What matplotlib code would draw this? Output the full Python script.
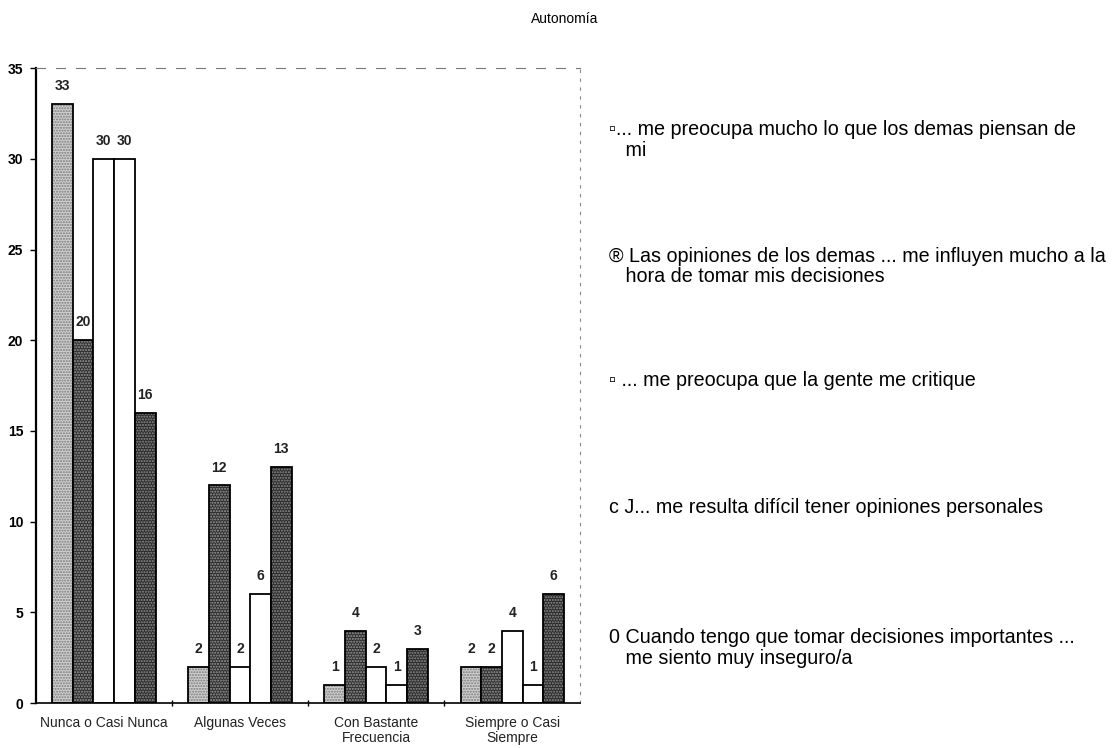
import numpy as np
import matplotlib
matplotlib.use("Agg")
import matplotlib.pyplot as plt

plt.rcParams['font.family'] = ['Liberation Sans', 'DejaVu Sans']
fuente_graf = ['Liberation Sans Narrow', 'Liberation Sans', 'DejaVu Sans']

categorias = ["Nunca o Casi Nunca", "Algunas Veces", "Con Bastante\nFrecuencia", "Siempre o Casi\nSiempre"]

preocupa_piensan = [33, 2, 1, 2]
opiniones_influyen = [20, 12, 4, 2]
preocupa_critique = [30, 2, 2, 4]
dificil_opiniones = [30, 6, 1, 1]
inseguro = [16, 13, 3, 6]

series = [preocupa_piensan, opiniones_influyen, preocupa_critique, dificil_opiniones, inseguro]

leyenda = [
    "\u25ab... me preocupa mucho lo que los demas piensan de\n   mi",
    "\u00ae Las opiniones de los demas ... me influyen mucho a la\n   hora de tomar mis decisiones",
    "\u25ab ... me preocupa que la gente me critique",
    "c J... me resulta dif\u00edcil tener opiniones personales",
    "0 Cuando tengo que tomar decisiones importantes ...\n   me siento muy inseguro/a",
]

# relleno de cada serie: (color de fondo, color del punteado)
estilos = [
    ("#cfcfcf", "#7a7a7a"),
    ("#2e2e2e", "#9a9a9a"),
    ("white", None),
    ("white", None),
    ("#2a2a2a", "#8f8f8f"),
]

fig = plt.figure(figsize=(11.16, 7.48), dpi=100)
ax = fig.add_axes([0.032, 0.06, 0.488, 0.849])

x = np.arange(len(categorias))
w = 0.152

for i, (vals, (fc, dots)) in enumerate(zip(series, estilos)):
    pos = x + (i - 2) * w
    if dots is not None:
        ax.bar(pos, vals, w, color=fc, edgecolor=dots, hatch="......", linewidth=0)
    else:
        ax.bar(pos, vals, w, color=fc, linewidth=0)
    ax.bar(pos, vals, w, fill=False, edgecolor="black", linewidth=1.3)
    for p, v in zip(pos, vals):
        ax.text(p, v + 0.6, str(v), ha="center", va="bottom", fontsize=10,
                fontweight="bold", color="#222222", family=fuente_graf)

ax.set_xlim(-0.5, 3.5)
ax.set_ylim(0, 35)
ax.set_yticks(np.arange(0, 36, 5))
ax.set_xticks(x)
ax.set_xticklabels(categorias, fontsize=10, color="#222222", linespacing=1.1,
                   family=fuente_graf)
ax.set_xticks([0.5, 1.5, 2.5], minor=True)
ax.tick_params(axis="x", which="major", length=0, pad=9)
ax.tick_params(axis="x", which="minor", length=5, direction="inout", width=1)
ax.tick_params(axis="y", length=4, width=1, labelsize=10, pad=5)
for lab in ax.get_yticklabels():
    lab.set_fontweight("bold")
    lab.set_family(fuente_graf)

ax.spines["left"].set_linewidth(1.6)
ax.spines["bottom"].set_linewidth(1.2)
ax.spines["top"].set_linestyle((0, (8, 10)))
ax.spines["top"].set_color("#777777")
ax.spines["top"].set_linewidth(0.8)
ax.spines["right"].set_linestyle((0, (2, 6)))
ax.spines["right"].set_color("#888888")
ax.spines["right"].set_linewidth(0.8)

fig.text(0.506, 0.975, "Autonom\u00eda", ha="center", va="center", fontsize=10)

y_leyenda = [0.813, 0.644, 0.491, 0.322, 0.134]
for texto, yy in zip(leyenda, y_leyenda):
    fig.text(0.546, yy, texto, ha="left", va="center", fontsize=14.2, linespacing=1.1)

fig.savefig("out.png", dpi=100)
